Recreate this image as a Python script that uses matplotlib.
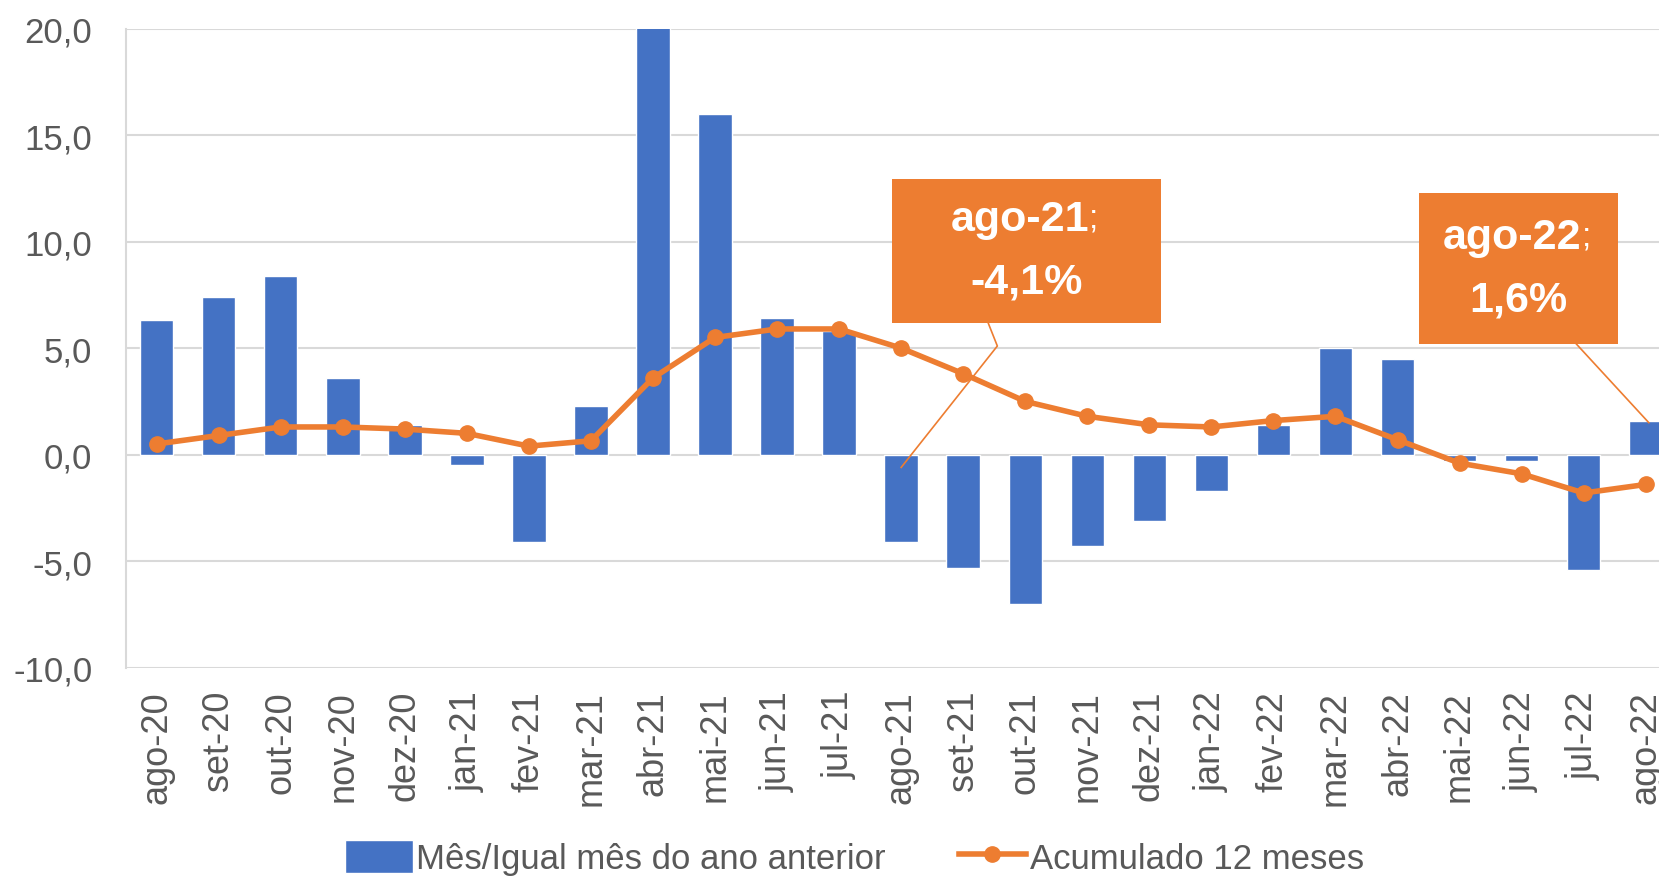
import matplotlib
matplotlib.use("Agg")
import matplotlib.pyplot as plt
import numpy as np

plt.rcParams['font.family'] = ['Liberation Sans Narrow', 'Liberation Sans', 'DejaVu Sans']

meses = ["ago-20", "set-20", "out-20", "nov-20", "dez-20", "jan-21", "fev-21", "mar-21",
         "abr-21", "mai-21", "jun-21", "jul-21", "ago-21", "set-21", "out-21", "nov-21",
         "dez-21", "jan-22", "fev-22", "mar-22", "abr-22", "mai-22", "jun-22", "jul-22", "ago-22"]
mes_ano_anterior = [6.3, 7.4, 8.4, 3.6, 1.4, -0.5, -4.1, 2.3,
                    20.3, 16.0, 6.4, 5.8, -4.1, -5.3, -7.0, -4.3,
                    -3.1, -1.7, 1.4, 5.0, 4.5, -0.3, -0.3, -5.4, 1.6]
acumulado_12 = [0.5, 0.9, 1.3, 1.3, 1.2, 1.0, 0.4, 0.65,
                3.6, 5.5, 5.9, 5.9, 5.0, 3.8, 2.5, 1.8,
                1.4, 1.3, 1.6, 1.8, 0.7, -0.4, -0.9, -1.8, -1.4]

azul = "#4472C4"
laranja = "#ED7D31"
cinza = "#595959"

fig = plt.figure(figsize=(16.59, 8.78), dpi=100)
ax = fig.add_axes([0.0757, 0.2384, 0.935, 0.7279])

x = np.arange(len(meses))
barras = ax.bar(x, mes_ano_anterior, width=0.54, color=azul, edgecolor="white", linewidth=1,
                label="Mês/Igual mês do ano anterior", zorder=2)
linha, = ax.plot(x, acumulado_12, color=laranja, linewidth=4, marker="o", markersize=11,
                 label="Acumulado 12 meses", zorder=3)

ax.set_ylim(-10, 20)
ax.set_xlim(-0.5, 24.5)
ax.set_yticks([-10, -5, 0, 5, 10, 15, 20])
ax.set_yticklabels([f"{v:.1f}".replace(".", ",") for v in [-10, -5, 0, 5, 10, 15, 20]])
ax.set_xticks(x)
ax.set_xticklabels(meses, rotation=90)
ax.tick_params(axis="both", length=0, colors=cinza)
ax.tick_params(axis="x", pad=16, labelsize=26)
ax.tick_params(axis="y", pad=24, labelsize=25)
ax.yaxis.grid(True, color="#D9D9D9", linewidth=1.5, zorder=0)
ax.set_axisbelow(True)
for s in ["top", "right", "bottom"]:
    ax.spines[s].set_visible(False)
ax.spines["left"].set_color("#D9D9D9")
ax.spines["left"].set_linewidth(1.5)

# caixas de destaque
def destaque(x0, x1, y0, y1, guia, rot, valor):
    ax.plot(guia[0], guia[1], color=laranja, linewidth=1.2, zorder=4, clip_on=False)
    ax.fill_between([x0, x1], y0, y1, color=laranja, zorder=5, clip_on=False, linewidth=0)
    xc = (x0 + x1) / 2
    yc = (y0 + y1) / 2
    t1 = ax.text(xc - 0.1, yc + 1.5, rot, ha="center", va="center", color="white",
                 fontsize=31, fontweight="bold", zorder=6)
    ax.annotate(";", xy=(1, 0.12), xycoords=t1, ha="left", va="bottom", color="white",
                fontsize=24, zorder=6)
    ax.text(xc, yc - 1.45, valor, ha="center", va="center", color="white",
            fontsize=31, fontweight="bold", zorder=6)

destaque(11.85, 16.18, 6.2, 12.96, ([12.0, 13.55, 13.4], [-0.6, 5.1, 6.2]), "ago-21", "-4,1%")
destaque(20.34, 23.56, 5.2, 12.27, ([24.05, 22.88], [1.5, 5.2]), "ago-22", "1,6%")

leg = fig.legend([barras, linha], ["Mês/Igual mês do ano anterior", "Acumulado 12 meses"],
                 loc="center", bbox_to_anchor=(0.515, 0.022), ncol=2, frameon=False,
                 fontsize=25, handlelength=1.95, handleheight=1.1, columnspacing=2.1,
                 handletextpad=0.1)
for t in leg.get_texts():
    t.set_color(cinza)

fig.savefig("out.png", dpi=100)
